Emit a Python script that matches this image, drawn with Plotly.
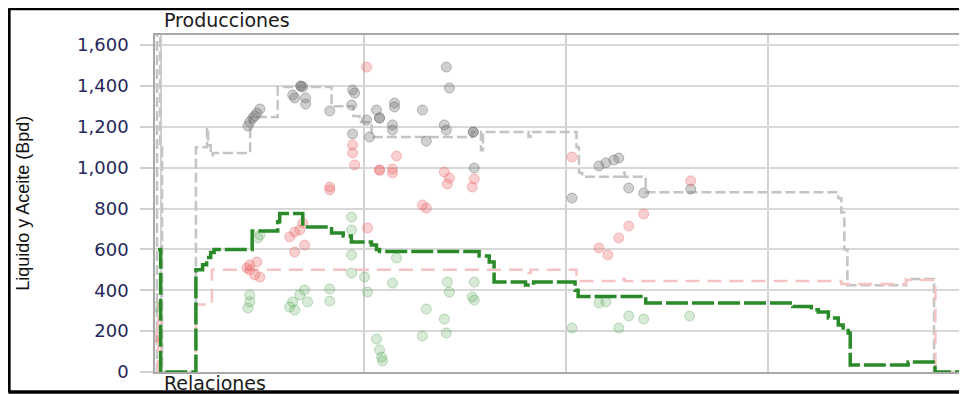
import plotly.graph_objects as go

# ---------------- data (x = fractional year, y = Bpd) ----------------
liq_line_x = [2015.975, 2015.980, 2015.995, 2016.005, 2016.172, 2016.227, 2016.232, 2016.245, 2016.255,
              2016.440, 2016.576, 2016.842, 2016.950, 2016.980, 2017.040, 2017.537, 2017.580, 2017.590,
              2017.815, 2017.825, 2018.052, 2018.064, 2018.080, 2018.280, 2018.290, 2018.394,
              2019.345, 2019.360, 2019.375, 2019.390, 2019.680, 2019.818, 2019.966]
liq_line_y = [0, 1700, 1100, 0, 1100, 1195, 1110, 1060, 1072,
              1248, 1395, 1300, 1253, 1223, 1150, 1174, 1085, 1174,
              1150, 1174, 1100, 975, 955, 975, 955, 880,
              850, 780, 600, 425, 455, 0, 0]

wat_line_x = [2015.975, 2015.985, 2016.000, 2016.172, 2016.251, 2017.815, 2017.825, 2018.052,
              2018.283, 2018.290, 2019.360, 2019.680, 2019.825, 2019.966]
wat_line_y = [0, 340, 0, 330, 500, 485, 500, 445,
              455, 445, 430, 450, 0, 0]

oil_line_x = [2015.985, 2015.998, 2016.172, 2016.205, 2016.225, 2016.245, 2016.262, 2016.450,
              2016.576, 2016.586, 2016.700, 2016.842, 2016.900, 2016.940, 2017.039, 2017.064,
              2017.079, 2017.571, 2017.621, 2017.645, 2017.800, 2017.840, 2018.045, 2018.060,
              2018.394, 2019.120, 2019.212, 2019.246, 2019.296, 2019.345, 2019.369, 2019.394,
              2019.404, 2019.690, 2019.823, 2019.966]
oil_line_y = [600, 0, 500, 525, 560, 585, 600, 690,
              735, 775, 710, 680, 665, 636, 621, 600,
              590, 568, 538, 440, 426, 440, 400, 370,
              338, 320, 305, 294, 264, 230, 215, 191,
              34, 49, 0, 0]

liq_pts_x = [2016.453, 2016.438, 2016.429, 2016.463, 2016.473, 2016.488, 2016.690, 2016.690, 2016.700,
             2016.650, 2016.660, 2016.714, 2016.714, 2016.833, 2016.946, 2016.956, 2016.941, 2016.946,
             2017.015, 2017.079, 2017.079, 2017.064, 2017.153, 2017.153, 2017.143, 2017.143, 2017.030,
             2017.291, 2017.310, 2017.409, 2017.424, 2017.399, 2017.409, 2017.542, 2017.542, 2017.547,
             2018.030, 2018.163, 2018.197, 2018.236, 2018.261, 2018.310, 2018.384, 2018.616]
liq_pts_y = [1243, 1223, 1204, 1253, 1267, 1287, 1399, 1399, 1395,
             1355, 1341, 1341, 1311, 1277, 1380, 1365, 1306, 1165,
             1233, 1243, 1243, 1282, 1316, 1297, 1209, 1184, 1150,
             1282, 1130, 1492, 1390, 1209, 1184, 1174, 1174, 998,
             851, 1008, 1023, 1037, 1047, 900, 876, 895]

wat_pts_x = [2015.975, 2017.015, 2016.946, 2016.946, 2016.956, 2016.833, 2016.833, 2017.079, 2017.079,
             2017.143, 2017.143, 2017.163, 2017.399, 2017.424, 2017.414, 2017.547, 2017.537, 2017.291,
             2017.310, 2018.030, 2016.438, 2016.438, 2016.463, 2016.424, 2016.488, 2016.473, 2016.635,
             2016.660, 2016.685, 2016.700, 2016.660, 2016.709, 2017.020, 2018.163, 2018.207, 2018.261,
             2018.310, 2018.384, 2018.616]
wat_pts_y = [171, 1492, 1111, 1072, 1013, 905, 891, 988, 988,
             993, 974, 1057, 979, 949, 920, 944, 905, 817,
             802, 1052, 499, 524, 475, 509, 465, 538, 661,
             685, 695, 729, 587, 621, 705, 607, 573, 656,
             714, 773, 935]

oil_pts_x = [2016.478, 2016.488, 2016.438, 2016.438, 2016.429, 2016.650, 2016.685, 2016.709, 2016.635,
             2016.660, 2016.724, 2016.833, 2016.833, 2016.941, 2016.941, 2016.941, 2016.941, 2015.970,
             2017.005, 2017.020, 2017.143, 2017.163, 2017.064, 2017.079, 2017.089, 2017.094, 2017.310,
             2017.291, 2017.414, 2017.424, 2017.399, 2017.409, 2017.547, 2017.537, 2017.547, 2018.030,
             2018.163, 2018.197, 2018.261, 2018.310, 2018.384, 2018.611]
oil_pts_y = [656, 670, 377, 343, 313, 343, 377, 401, 318,
             303, 343, 406, 347, 758, 695, 573, 484, 318,
             465, 391, 435, 558, 161, 108, 73, 54, 308,
             176, 440, 391, 259, 191, 440, 367, 352, 215,
             338, 343, 215, 274, 259, 274]

y_ticks = [0, 200, 400, 600, 800, 1000, 1200, 1400, 1600]
y_title = "Liquido y Aceite (Bpd)"
top_label = "Producciones"
bottom_label = "Relaciones"

# ---------------- figure ----------------
fig = go.Figure()

fig.add_trace(go.Scatter(x=liq_line_x, y=liq_line_y, mode="lines", line_shape="hv",
                         line=dict(color="#c4c4c4", width=2.5, dash="10px,4px")))
fig.add_trace(go.Scatter(x=wat_line_x, y=wat_line_y, mode="lines", line_shape="hv",
                         line=dict(color="#f6c2c2", width=2.5, dash="14px,8px")))

marker_common = dict(size=10, symbol="circle")
fig.add_trace(go.Scatter(x=liq_pts_x, y=liq_pts_y, mode="markers",
                         marker=dict(**marker_common, color="rgba(120,120,120,0.35)",
                                     line=dict(color="rgba(110,110,110,0.45)", width=1))))
fig.add_trace(go.Scatter(x=wat_pts_x, y=wat_pts_y, mode="markers",
                         marker=dict(**marker_common, color="rgba(235,95,95,0.30)",
                                     line=dict(color="rgba(230,110,110,0.40)", width=1))))
fig.add_trace(go.Scatter(x=oil_pts_x, y=oil_pts_y, mode="markers",
                         marker=dict(**marker_common, color="rgba(90,170,90,0.25)",
                                     line=dict(color="rgba(90,160,90,0.35)", width=1))))

fig.add_trace(go.Scatter(x=oil_line_x, y=oil_line_y, mode="lines", line_shape="hv",
                         line=dict(color="#2a8a2a", width=3.5, dash="22px,4px")))

fig.update_layout(
    width=959, height=386,
    margin=dict(l=147, r=1, t=27, b=22),
    paper_bgcolor="white", plot_bgcolor="white",
    showlegend=False,
    xaxis=dict(range=[2015.970, 2019.966], tick0=2016, dtick=1, showticklabels=False,
               showgrid=True, gridcolor="#d2d2d2", gridwidth=2, zeroline=False,
               showline=True, linecolor="#a8a8a8", linewidth=1.5, mirror=True, ticks=""),
    yaxis=dict(range=[0, 1649], tickvals=y_ticks, tickformat=",", ticks="outside", ticklen=13,
               tickcolor="#cfcfcf", tickwidth=1.5, ticklabelstandoff=8,
               tickfont=dict(family="DejaVu Sans", size=18, color="#26265a"),
               showgrid=True, gridcolor="#d8d8d8", gridwidth=1.5, zeroline=False,
               showline=True, linecolor="#a8a8a8", linewidth=1.5, mirror=True),
    annotations=[
        dict(text=top_label, xref="paper", yref="paper", x=0.0086, y=1.0445,
             xanchor="left", yanchor="middle", showarrow=False,
             font=dict(family="DejaVu Sans", size=19, color="#1a1a1a")),
        dict(text=bottom_label, xref="paper", yref="paper", x=0.0086, y=-0.0326,
             xanchor="left", yanchor="middle", showarrow=False,
             font=dict(family="DejaVu Sans", size=19, color="#1a1a1a")),
        dict(text=y_title, xref="paper", yref="paper", x=-0.164, y=0.5,
             xanchor="center", yanchor="middle", showarrow=False, textangle=-90,
             font=dict(family="Liberation Sans, Arial", size=18, color="#111111")),
    ],
    shapes=[
        dict(type="line", xref="paper", yref="paper", x0=-0.1813, x1=1.01, y0=1.0786, y1=1.0786,
             line=dict(color="black", width=3.5)),
        dict(type="line", xref="paper", yref="paper", x0=-0.1813, x1=1.01, y0=-0.0593, y1=-0.0593,
             line=dict(color="black", width=3.5)),
        dict(type="line", xref="paper", yref="paper", x0=-0.1806, x1=-0.1806, y0=-0.0593, y1=1.0786,
             line=dict(color="black", width=3.5)),
    ],
)

fig.write_html("out.html")
